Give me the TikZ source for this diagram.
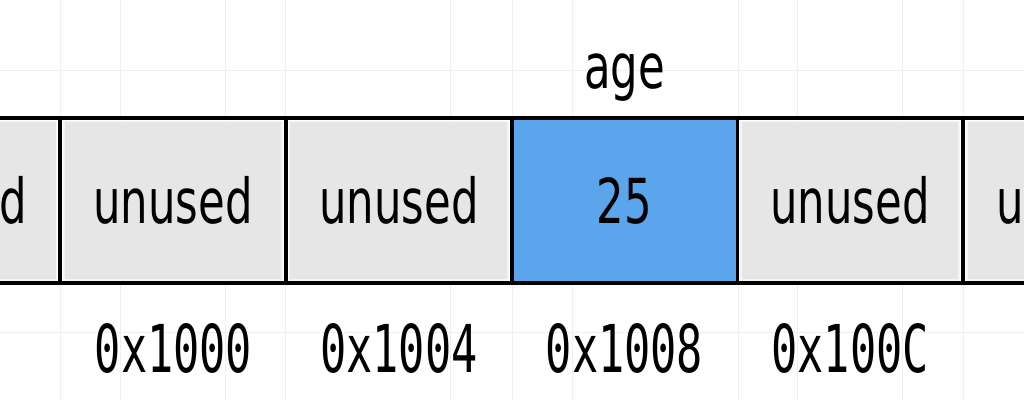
\documentclass[tikz,border=0pt]{standalone}
\usepackage{fontspec}
\setmainfont{DejaVu Sans}
\newfontfamily\cellfont[FakeStretch=0.70]{DejaVu Sans}
\newfontfamily\addrfont[FakeStretch=0.66]{DejaVu Sans Mono}
\definecolor{gridc}{HTML}{EFEFEF}
\definecolor{cellgray}{HTML}{E6E6E6}
\definecolor{cellblue}{HTML}{5AA5EC}
\definecolor{celledge}{HTML}{F5F5F5}
\tikzset{
  gridline/.style={draw=gridc, line width=1pt},
  border/.style={draw=black, line width=3.5pt},
  cellfill/.style={fill=cellgray, draw=celledge, line width=1.5pt},
  bluefill/.style={fill=cellblue, draw=none},
  celltext/.style={anchor=base, inner sep=0pt, font=\cellfont\fontsize{62}{70}\selectfont},
  addrtext/.style={anchor=base, inner sep=0pt, font=\addrfont\fontsize{66}{74}\selectfont},
}
\begin{document}
\begin{tikzpicture}[x=1pt,y=-1pt]
\useasboundingbox (0,0) rectangle (1024,400);
\fill[white] (0,0) rectangle (1024,400);
% faint grid
\foreach \gx in {60,120,225,285,450,512,572,738,797,902,963}
  \draw[gridline] (\gx,0) -- (\gx,400);
\foreach \gy in {70,332}
  \draw[gridline] (0,\gy) -- (1024,\gy);
% cell fills
\draw[cellfill] (-10,121.5) rectangle (56.5,280);
\draw[cellfill] (64,121.5) rectangle (282,280);
\draw[cellfill] (289.5,121.5) rectangle (508,280);
\fill[bluefill] (511.5,118) rectangle (737.5,283);
\draw[cellfill] (741,121.5) rectangle (959,280);
\draw[cellfill] (967,121.5) rectangle (1034,280);
% borders
\draw[border] (-5,118) -- (1029,118);
\draw[border] (-5,283) -- (1029,283);
\foreach \bx in {60,286,512,737.5,963}
  \draw[border] (\bx,116.5) -- (\bx,284.5);
% cell texts
\node[celltext] (c0) at (-52.5,223) {unused};
\node[celltext] (c1) at (173,223) {unused};
\node[celltext] (c2) at (399,223) {unused};
\node[celltext] (c3) at (624.5,223) {25};
\node[celltext] (c4) at (850,223) {unused};
\node[celltext] (c5) at (1076,223) {unused};
% label
\node[celltext] (lab) at (624.5,88) {age};
% addresses
\node[addrtext] (a1) at (173.5,372) {0x1000};
\node[addrtext] (a2) at (399,372) {0x1004};
\node[addrtext] (a3) at (624.5,372) {0x1008};
\node[addrtext] (a4) at (850,372) {0x100C};
\end{tikzpicture}
\end{document}
